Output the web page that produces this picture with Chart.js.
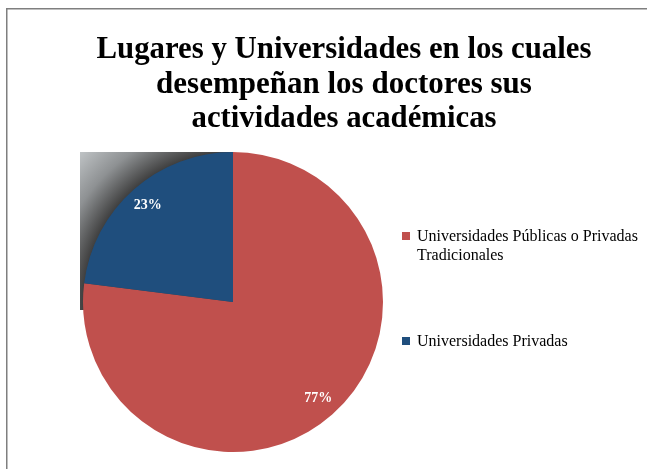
<!DOCTYPE html>
<html>
<head>
<meta charset="utf-8">
<script src="https://cdn.jsdelivr.net/npm/chart.js@4.4.0/dist/chart.umd.min.js"></script>
<style>
html,body{margin:0;padding:0;background:#fff;}
canvas{display:block;}
</style>
</head>
<body>
<canvas id="c" width="647" height="469"></canvas>
<script>
const categories = ['Universidades Públicas o Privadas Tradicionales', 'Universidades Privadas'];
const values = [77, 23];
const percentLabels = ['77%', '23%'];
const colors = ['#C0504D', '#1F4E7D'];
const titleLines = ['Lugares y Universidades en los cuales', 'desempeñan los doctores sus', 'actividades académicas'];
const legendLines = [['Universidades Públicas o Privadas', 'Tradicionales'], ['Universidades Privadas']];

const framePlugin = {
  id: 'frame',
  beforeDraw(chart) {
    const ctx = chart.ctx;
    ctx.save();
    ctx.fillStyle = '#fff';
    ctx.fillRect(0, 0, chart.width, chart.height);
    ctx.fillStyle = '#7f7f7f';
    ctx.fillRect(6, 8, chart.width - 6, 1.5);
    ctx.fillRect(6, 8, 1.5, chart.height - 8);
    ctx.restore();
  }
};

const shadowPlugin = {
  id: 'shadow',
  beforeDatasetsDraw(chart) {
    const arc = chart.getDatasetMeta(0).data[0];
    if (!arc) return;
    const {x, y, outerRadius: r} = arc.getProps(['x', 'y', 'outerRadius'], true);
    const ctx = chart.ctx;
    ctx.save();
    ctx.beginPath();
    ctx.rect(x - r - 3, y - r, r + 3, r + 8);
    ctx.clip();
    const g = ctx.createRadialGradient(x, y, r, x, y, r * 1.45);
    g.addColorStop(0, '#404040');
    g.addColorStop(0.45, '#8e9193');
    g.addColorStop(1, '#c4c8ca');
    ctx.fillStyle = g;
    ctx.fillRect(x - r - 3, y - r, r + 3, r + 8);
    ctx.restore();
  }
};

const labelPlugin = {
  id: 'pctLabels',
  afterDatasetsDraw(chart) {
    const ctx = chart.ctx;
    const meta = chart.getDatasetMeta(0);
    ctx.save();
    ctx.fillStyle = '#fff';
    ctx.font = 'bold 14px "Liberation Serif", "Times New Roman", serif';
    ctx.textAlign = 'center';
    ctx.textBaseline = 'middle';
    meta.data.forEach((arc, i) => {
      const p = arc.getProps(['x', 'y', 'startAngle', 'endAngle', 'outerRadius'], true);
      const mid = (p.startAngle + p.endAngle) / 2;
      const d = p.outerRadius * 0.86;
      ctx.fillText(percentLabels[i], p.x + Math.cos(mid) * d, p.y + Math.sin(mid) * d);
    });
    ctx.restore();
  }
};

function fitText(ctx, text, cx, y, targetW) {
  const w = ctx.measureText(text).width;
  const s = targetW ? Math.min(1, targetW / w) : 1;
  ctx.save();
  ctx.translate(cx, y);
  ctx.scale(s, 1);
  ctx.textAlign = 'center';
  ctx.fillText(text, 0, 0);
  ctx.restore();
}

const titlePlugin = {
  id: 'titleText',
  afterDraw(chart) {
    const ctx = chart.ctx;
    ctx.save();
    ctx.fillStyle = '#000';
    ctx.font = 'bold 31px "Liberation Serif", "Times New Roman", serif';
    ctx.textBaseline = 'alphabetic';
    const baselines = [58, 93, 127];
    const widths = [495, 395, 305];
    titleLines.forEach((t, i) => fitText(ctx, t, 344, baselines[i], widths[i]));
    ctx.restore();
  }
};

const legendPlugin = {
  id: 'legendText',
  afterDraw(chart) {
    const ctx = chart.ctx;
    ctx.save();
    ctx.font = '16px "Liberation Serif", "Times New Roman", serif';
    ctx.textBaseline = 'alphabetic';
    ctx.textAlign = 'left';
    const tops = [232, 337];
    categories.forEach((c, i) => {
      ctx.fillStyle = colors[i];
      ctx.fillRect(402, tops[i], 8, 8);
      ctx.fillStyle = '#000';
      legendLines[i].forEach((ln, j) => {
        ctx.fillText(ln, 417, tops[i] + 9 + j * 19);
      });
    });
    ctx.restore();
  }
};

new Chart(document.getElementById('c'), {
  type: 'pie',
  data: {
    labels: categories,
    datasets: [{
      data: values,
      backgroundColor: colors,
      borderWidth: 0
    }]
  },
  options: {
    responsive: false,
    animation: false,
    layout: {padding: {top: 152, left: 83, right: 264, bottom: 17}},
    plugins: {
      legend: {display: false},
      tooltip: {enabled: false},
      title: {display: false}
    }
  },
  plugins: [framePlugin, shadowPlugin, labelPlugin, titlePlugin, legendPlugin]
});
</script>
</body>
</html>
